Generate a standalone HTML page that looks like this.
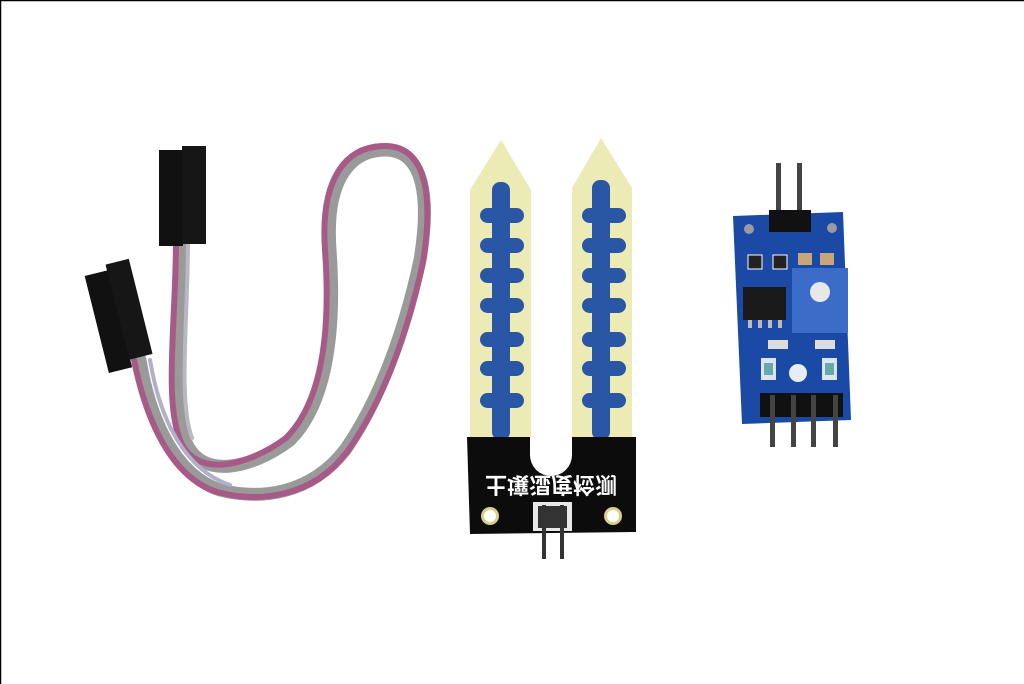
<!DOCTYPE html>
<html><head><meta charset="utf-8"><style>
html,body{margin:0;padding:0;background:#fff}
svg{display:block}
</style></head><body>
<svg width="1024" height="684" viewBox="0 0 1024 684" xmlns="http://www.w3.org/2000/svg">
<rect width="1024" height="684" fill="#fff"/>
<line x1="0" y1="0.5" x2="1024" y2="0.5" stroke="#000" stroke-width="1.5"/>
<line x1="0.5" y1="0" x2="0.5" y2="684" stroke="#000" stroke-width="1.5"/>

<!-- cables -->
<g fill="none" stroke-linecap="round">
  <path d="M182 240 C182 320 170 400 185 440 C200 480 250 470 290 440 C330 400 335 320 330 250 C325 180 350 150 385 150 C425 150 430 200 420 260 C405 330 380 400 345 450 C310 495 260 500 220 490 C175 475 150 420 140 360" stroke="#9a9a9a" stroke-width="13"/>
  <path d="M176 240 C176 320 164 400 180 440 C195 478 245 468 286 438 C326 398 330 320 325 250 C320 178 346 146 385 146 C428 146 433 200 423 262 C408 332 383 402 347 452 C312 498 258 503 217 492 C171 477 146 420 134 360" stroke="#a85a86" stroke-width="6"/>
  <path d="M188 240 C188 320 178 400 192 438" stroke="#b8b8c0" stroke-width="4"/>
  <path d="M150 360 C160 420 185 470 230 485" stroke="#b0b0c8" stroke-width="4"/>
</g>
<!-- connectors -->
<rect x="159" y="150" width="24" height="96" fill="#111"/>
<rect x="182" y="146" width="24" height="98" fill="#161616"/>
<g transform="rotate(-14 122 310)">
  <rect x="94" y="268" width="24" height="100" fill="#111"/>
  <rect x="117" y="262" width="24" height="98" fill="#161616"/>
</g>

<!-- fork probe -->
<path d="M470 190 L501 140 L531 190 L531 440 L470 440 Z" fill="#ecebb5"/>
<path d="M572 188 L601 138 L632 188 L632 440 L572 440 Z" fill="#ecebb5"/>
<g fill="#2a56a6">
  <rect x="492" y="182" width="18" height="258" rx="8"/>
  <rect x="592" y="180" width="18" height="260" rx="8"/>
  <g id="pads">
    <rect x="480" y="208" width="44" height="15" rx="7.5"/>
    <rect x="480" y="238" width="44" height="15" rx="7.5"/>
    <rect x="480" y="268" width="44" height="15" rx="7.5"/>
    <rect x="480" y="298" width="44" height="15" rx="7.5"/>
    <rect x="480" y="332" width="44" height="15" rx="7.5"/>
    <rect x="480" y="361" width="44" height="15" rx="7.5"/>
    <rect x="480" y="393" width="44" height="15" rx="7.5"/>
  </g>
  <use href="#pads" x="102"/>
</g>
<path d="M467 437 L636 437 L636 532 L470 534 Z" fill="#0c0c0c"/>
<path d="M530 437 L572 437 L572 455 A21 21 0 0 1 530 455 Z" fill="#fff"/>
<circle cx="490" cy="516" r="9" fill="#d8cf90"/><circle cx="490" cy="516" r="6" fill="#fff"/>
<circle cx="613" cy="516" r="9" fill="#d8cf90"/><circle cx="613" cy="516" r="6" fill="#fff"/>
<text x="551" y="-477" transform="scale(1,-1)" text-anchor="middle" font-family="'Noto Sans CJK SC',sans-serif" font-size="22" font-weight="bold" fill="#fff">土壤湿度检测</text>
<rect x="533" y="502" width="39" height="29" fill="#e8e8e8"/>
<rect x="538" y="506" width="29" height="22" fill="#333"/>
<rect x="542" y="505" width="4" height="54" fill="#333"/>
<rect x="560" y="505" width="4" height="54" fill="#333"/>

<!-- blue module -->
<rect x="776" y="163" width="5" height="55" fill="#444"/>
<rect x="797" y="163" width="5" height="55" fill="#444"/>
<path d="M733 216 L843 212 L851 420 L742 424 Z" fill="#1a4aa6"/>
<rect x="769" y="210" width="42" height="22" fill="#111"/>
<circle cx="749" cy="229" r="5" fill="#9a9aa0"/>
<circle cx="832" cy="228" r="5" fill="#9a9aa0"/>
<rect x="748" y="255" width="14" height="14" fill="#222" stroke="#fff" stroke-width="1"/>
<rect x="773" y="255" width="14" height="14" fill="#222" stroke="#fff" stroke-width="1"/>
<rect x="798" y="253" width="14" height="12" fill="#c9a67a"/>
<rect x="820" y="253" width="14" height="12" fill="#c9a67a"/>
<rect x="743" y="287" width="43" height="33" fill="#1a1a1a"/>
<g fill="#bbb"><rect x="748" y="320" width="4" height="8"/><rect x="758" y="320" width="4" height="8"/><rect x="768" y="320" width="4" height="8"/><rect x="778" y="320" width="4" height="8"/></g>
<rect x="792" y="268" width="56" height="65" fill="#3a6cc8"/>
<circle cx="820" cy="292" r="10" fill="#e8e8e8"/>
<rect x="768" y="340" width="20" height="9" fill="#ddd"/><rect x="815" y="340" width="20" height="9" fill="#ddd"/>
<rect x="761" y="358" width="15" height="22" fill="#fff" opacity=".85"/><rect x="764" y="363" width="9" height="12" fill="#6aa"/>
<rect x="822" y="358" width="15" height="22" fill="#fff" opacity=".85"/><rect x="825" y="363" width="9" height="12" fill="#6aa"/>
<circle cx="798" cy="373" r="9" fill="#e8ecf4"/>
<rect x="760" y="393" width="83" height="24" fill="#111"/>
<g fill="#444"><rect x="770" y="395" width="5" height="52"/><rect x="791" y="395" width="5" height="52"/><rect x="811" y="395" width="5" height="52"/><rect x="833" y="395" width="5" height="52"/></g>
</svg>
</body></html>
